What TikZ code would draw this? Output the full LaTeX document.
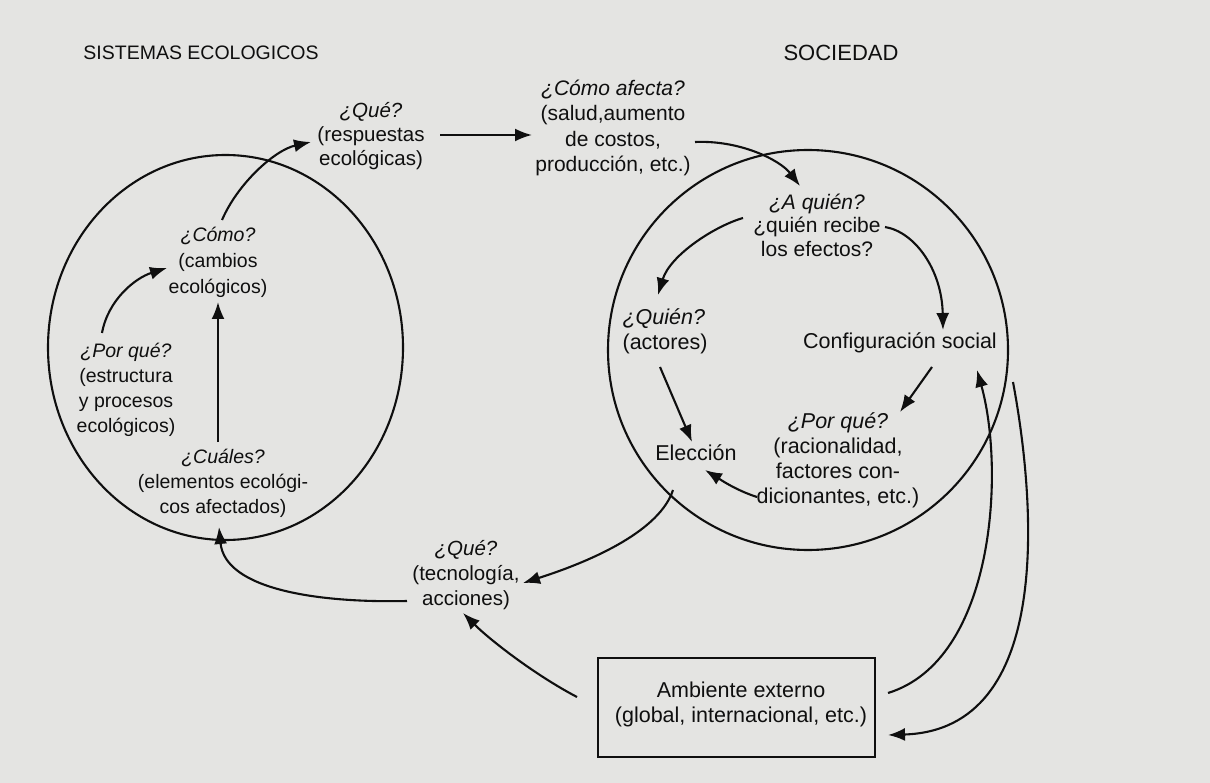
\documentclass[tikz,border=0pt]{standalone}
\usepackage{fontspec}
\setmainfont{Liberation Sans}
\usetikzlibrary{arrows.meta}
\definecolor{bg}{RGB}{228,228,226}
\definecolor{ink}{RGB}{15,15,15}
\begin{document}
\begin{tikzpicture}[x=1pt,y=-1pt,
  lt/.style={font=\fontsize{19.5}{25}\selectfont, align=center, inner sep=0pt, text=ink},
  mt/.style={font=\fontsize{20.5}{25}\selectfont, align=center, inner sep=0pt, text=ink},
  rt/.style={font=\fontsize{21.5}{25}\selectfont, align=center, inner sep=0pt, text=ink},
  arr/.style={draw=ink, line width=2.1pt, -{Latex[length=17pt,width=13pt]}},
  ring/.style={draw=ink, line width=2.1pt},
  framebox/.style={draw=ink, line width=2.3pt, minimum width=277pt, minimum height=99pt, inner sep=0pt}]
\fill[bg] (0,0) rectangle (1210,783);
\useasboundingbox (0,0) rectangle (1210,783);

% circles
\draw[ring] (225.5,347.5) ellipse [x radius=177.5pt, y radius=192.5pt];
\draw[ring] (808,350) circle [radius=200pt];

% headings
\node[lt] (sis) at (201,53) {SISTEMAS ECOLOGICOS};
\node[rt, font=\fontsize{22}{25}\selectfont] (soc) at (841,53) {SOCIEDAD};

% text nodes
\node[mt, font=\fontsize{20.5}{24}\selectfont] (que1) at (371,136) {\textit{¿Qué?}\\(respuestas\\ecológicas)};
\node[rt, font=\fontsize{21}{25.5}\selectfont] (afecta) at (613,128) {\textit{¿Cómo afecta?}\\(salud,aumento\\de costos,\\producción, etc.)};
\node[rt, font=\fontsize{21}{23.5}\selectfont] (aquien) at (817,225) {\textit{¿A quién?}\\¿quién recibe\\los efectos?};
\node[rt, align=left] (quien) at (665,331) {\textit{¿Quién?}\\(actores)};
\node[rt] (config) at (900,343) {Configuración social};
\node[rt] (porque2) at (838,460) {\textit{¿Por qué?}\\(racionalidad,\\factores con-\\dicionantes, etc.)};
\node[rt] (elec) at (696,453) {Elección};
\node[mt] (que2) at (466,575) {\textit{¿Qué?}\\(tecnología,\\acciones)};
\node[framebox] (box) at (736.5,707.5) {};
\node[rt] (boxtext) at (741,704.5) {Ambiente externo\\(global, internacional, etc.)};
\node[lt, font=\fontsize{19.5}{26}\selectfont] (como) at (218,262) {\textit{¿Cómo?}\\(cambios\\ecológicos)};
\node[lt] (porque1) at (126,390) {\textit{¿Por qué?}\\(estructura\\y procesos\\ecológicos)};
\node[lt] (cuales) at (223,483) {\textit{¿Cuáles?}\\(elementos ecológi-\\cos afectados)};

% connectors, left circle
\draw[arr] ([shift={(-24,-57)}]porque1.center) .. controls (108,300) and (135,278) .. ([shift={(-51,6)}]como.center);
\draw[arr] ([shift={(-5,-41)}]cuales.center) -- ([shift={(0,40)}]como.center);
\draw[arr] ([shift={(4,-42)}]como.center) .. controls (238,183) and (275,150) .. ([shift={(-60,6)}]que1.center);

% top
\draw[arr] ([shift={(69,-1)}]que1.center) -- ([shift={(-81,7)}]afecta.center);
\draw[arr] ([shift={(82,14)}]afecta.center) .. controls (740,140) and (780,160) .. ([shift={(-17,-39)}]aquien.center);

% right circle
\draw[arr] ([shift={(-74,-7)}]aquien.center) .. controls (715,226) and (670,255) .. ([shift={(-7,-36)}]quien.center);
\draw[arr] ([shift={(68,2)}]aquien.center) .. controls (915,232) and (942,270) .. ([shift={(43,-13)}]config.center);
\draw[arr] ([shift={(32,24)}]config.center) -- ([shift={(62,-48)}]porque2.center);
\draw[arr] ([shift={(-5,36)}]quien.center) -- ([shift={(-4,-11)}]elec.center);
\draw[arr] ([shift={(-81,37)}]porque2.center) .. controls (735,490) and (718,478) .. ([shift={(9,17)}]elec.center);

% lower loop
\draw[arr] ([shift={(-23,37)}]elec.center) .. controls (660,530) and (595,560) .. ([shift={(57,8)}]que2.center);
\draw[arr] ([shift={(-59,26)}]que2.center) .. controls (320,603) and (225,590) .. ([shift={(-4,44)}]cuales.center);
\draw[arr] ([shift={(-159.5,-10.5)}]box.center) .. controls (535,675) and (490,640) .. ([shift={(-3,38)}]que2.center);

% external environment
\draw[arr] ([shift={(151.5,-14.5)}]box.center) .. controls (995,660) and (1005,470) .. ([shift={(77,27)}]config.center);
\draw[arr] ([shift={(113,39)}]config.center) .. controls (1035,500) and (1055,730) .. ([shift={(151.5,27.5)}]box.center);
\end{tikzpicture}
\end{document}
